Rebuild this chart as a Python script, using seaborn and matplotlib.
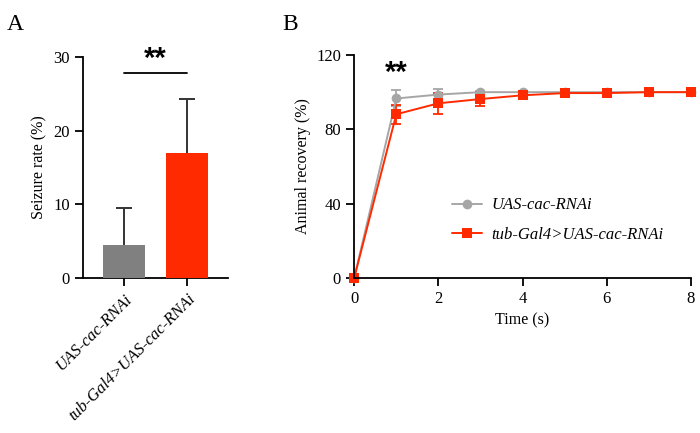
import numpy as np
import pandas as pd
import matplotlib
matplotlib.use("Agg")
import matplotlib.pyplot as plt
import seaborn as sns

# datos panel A
grupos = ["UAS-cac-RNAi", "tub-Gal4>UAS-cac-RNAi"]
seizure = [4.5, 17.0]
seizure_err = [5.0, 7.3]

# datos panel B
tiempo = [0, 1, 2, 3, 4, 5, 6, 7, 8]
rec_ctrl = [0, 96.6, 98.7, 100, 100, 100, 100, 100, 100]
rec_ctrl_err = [0, 4.3, 3.0, 0.5, 0.3, 0.2, 0.2, 0, 0]
rec_rnai = [0, 88.1, 94.0, 96.3, 98.3, 99.5, 99.5, 100, 100]
rec_rnai_err = [0, 5.0, 5.7, 3.7, 1.0, 0.8, 0.8, 0, 0]

gris = "#808080"
gris_linea = "#A6A6A6"
rojo = "#FF2A00"

sns.set_style("ticks")
plt.rcParams["font.family"] = ["Liberation Serif", "DejaVu Serif"]
plt.rcParams["axes.linewidth"] = 1.3
plt.rcParams["xtick.major.width"] = 1.3
plt.rcParams["ytick.major.width"] = 1.3
plt.rcParams["xtick.major.size"] = 6
plt.rcParams["ytick.major.size"] = 6
for k in ["text.color", "axes.labelcolor", "axes.edgecolor", "xtick.color", "ytick.color"]:
    plt.rcParams[k] = "black"

fig = plt.figure(figsize=(7, 4.33), dpi=100)
axA = fig.add_axes([0.1186, 0.358, 0.2071, 0.510])
axB = fig.add_axes([0.506, 0.358, 0.481, 0.515])

# ---- Panel A ----
dfA = pd.DataFrame({"grupo": grupos, "valor": seizure})
# barra simetrica; la mitad inferior queda tapada por la barra
axA.errorbar(range(len(grupos)), seizure, yerr=seizure_err,
             fmt="none", ecolor="#333333", elinewidth=1.4, capsize=6,
             capthick=1.4, zorder=1)
sns.barplot(data=dfA, x="grupo", y="valor", hue="grupo",
            palette=[gris, rojo], width=0.67, errorbar=None, saturation=1,
            linewidth=0, legend=False, ax=axA)
for p in axA.patches:
    p.set_zorder(3)
axA.set_xlim(-0.65, 1.65)
axA.set_ylim(0, 30)
axA.set_yticks([0, 10, 20, 30])
axA.set_xlabel("")
axA.set_ylabel("Seizure rate (%)", fontsize=11.5)
axA.set_xticks(range(len(grupos)))
axA.set_xticklabels(grupos, rotation=45, ha="right", rotation_mode="anchor",
                    style="italic", fontsize=12)
axA.tick_params(axis="y", labelsize=12)
axA.plot([0, 1], [27.9, 27.9], color="black", lw=1.3, clip_on=False)
axA.text(0.5, 29.8, "**", ha="center", va="center", fontsize=21,
         fontweight="bold", family="Liberation Sans", color="black")
sns.despine(ax=axA)

# ---- Panel B ----
dfB = pd.DataFrame({
    "tiempo": tiempo * 2,
    "rec": rec_ctrl + rec_rnai,
    "grupo": [grupos[0]] * len(tiempo) + [grupos[1]] * len(tiempo),
})
for val, err, col in [(rec_ctrl, rec_ctrl_err, gris_linea), (rec_rnai, rec_rnai_err, rojo)]:
    axB.errorbar(tiempo, val, yerr=err, fmt="none", ecolor=col,
                 elinewidth=1.3, capsize=3.5, capthick=1.3, clip_on=False)
sns.lineplot(data=dfB, x="tiempo", y="rec", hue="grupo", style="grupo",
             palette=[gris_linea, rojo], markers=["o", "s"], dashes=False,
             markersize=7, markeredgewidth=0, linewidth=1.4,
             ax=axB, clip_on=False)
axB.set_xlim(0, 8)
axB.set_ylim(0, 120)
axB.set_xticks([0, 2, 4, 6, 8])
axB.set_yticks([0, 40, 80, 120])
axB.tick_params(labelsize=12)
axB.set_xlabel("Time (s)", fontsize=11.5)
axB.set_ylabel("Animal recovery (%)", fontsize=11.5)
axB.text(1.0, 110.5, "**", ha="center", va="center", fontsize=21,
         fontweight="bold", family="Liberation Sans", color="black")
leg = axB.legend(loc="center left", bbox_to_anchor=(0.245, 0.26), frameon=False,
                 prop={"style": "italic", "size": 12}, handlelength=1.8,
                 labelspacing=0.8, handletextpad=0.6)
sns.despine(ax=axB)

fig.text(0.01, 0.93, "A", fontsize=17)
fig.text(0.404, 0.93, "B", fontsize=17)

fig.savefig("out.png", dpi=100)
